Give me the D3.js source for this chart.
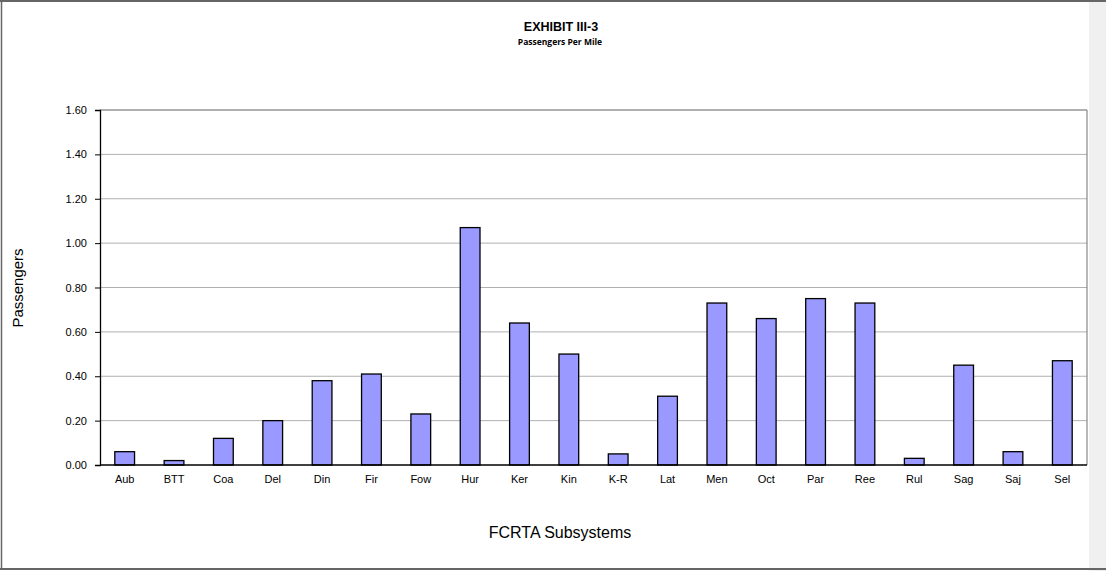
<!DOCTYPE html>
<html>
<head>
<meta charset="utf-8">
<script src="https://cdn.jsdelivr.net/npm/d3@7"></script>
<style>
  body { margin: 0; background: #fff; }
  svg text { font-family: "Liberation Sans", Arial, sans-serif; }
</style>
</head>
<body>
<div id="chart"></div>
<script>
var categories = ["Aub", "BTT", "Coa", "Del", "Din", "Fir", "Fow", "Hur", "Ker", "Kin",
                  "K-R", "Lat", "Men", "Oct", "Par", "Ree", "Rul", "Sag", "Saj", "Sel"];
var values = [0.06, 0.02, 0.12, 0.20, 0.38, 0.41, 0.23, 1.07, 0.64, 0.50,
              0.05, 0.31, 0.73, 0.66, 0.75, 0.73, 0.03, 0.45, 0.06, 0.47];
var yTicks = [0, 0.2, 0.4, 0.6, 0.8, 1.0, 1.2, 1.4, 1.6];

var W = 1106, H = 571;
var plotL = 100, plotR = 1087, plotT = 110, plotB = 465;

var svg = d3.select("#chart").append("svg")
    .attr("width", W).attr("height", H);

// right gray strip + outer frame
svg.append("rect").attr("x", 1089).attr("y", 0).attr("width", W - 1089).attr("height", H)
    .attr("fill", "#f0f0f0");
svg.append("line").attr("x1", 0).attr("x2", W).attr("y1", 1).attr("y2", 1)
    .attr("stroke", "#666").attr("stroke-width", 2);
svg.append("line").attr("x1", 0).attr("x2", W).attr("y1", H - 2).attr("y2", H - 2)
    .attr("stroke", "#666").attr("stroke-width", 2);
svg.append("line").attr("x1", 1.5).attr("x2", 1.5).attr("y1", 0).attr("y2", H - 2)
    .attr("stroke", "#666").attr("stroke-width", 1.5);

var x = d3.scaleBand().domain(categories).range([plotL, plotR]).paddingInner(0.6).paddingOuter(0.3);
var y = d3.scaleLinear().domain([0, 1.6]).range([plotB, plotT]);

// gridlines
svg.append("g").selectAll("line").data(yTicks.slice(1))
    .enter().append("line")
    .attr("x1", plotL).attr("x2", plotR)
    .attr("y1", function(d) { return y(d); })
    .attr("y2", function(d) { return y(d); })
    .attr("stroke", "#b0b0b0").attr("stroke-width", 1);

// plot border right
svg.append("line").attr("x1", plotR).attr("x2", plotR).attr("y1", plotT).attr("y2", plotB)
    .attr("stroke", "#888").attr("stroke-width", 1.2);

// bars
svg.append("g").selectAll("rect").data(values)
    .enter().append("rect")
    .attr("x", function(d, i) { return x(categories[i]); })
    .attr("width", x.bandwidth())
    .attr("y", function(d) { return y(d); })
    .attr("height", function(d) { return plotB - y(d); })
    .attr("fill", "#9999ff")
    .attr("stroke", "#000").attr("stroke-width", 1.3);

// top border of plot
svg.append("line").attr("x1", plotL).attr("x2", plotR).attr("y1", plotT).attr("y2", plotT)
    .attr("stroke", "#888").attr("stroke-width", 1.2);

// y axis
var yAxis = svg.append("g").attr("transform", "translate(" + plotL + ",0)")
    .call(d3.axisLeft(y).tickValues(yTicks).tickFormat(d3.format(".2f")).tickSize(5).tickPadding(8));
yAxis.select(".domain").attr("stroke", "#000").attr("stroke-width", 1.3);
yAxis.selectAll("text").attr("font-size", 11).attr("fill", "#000")
    .style("font-family", "Liberation Sans, Arial, sans-serif");

// x axis
var xAxis = svg.append("g").attr("transform", "translate(0," + plotB + ")")
    .call(d3.axisBottom(x).tickSize(0).tickPadding(10));
xAxis.select(".domain").attr("stroke", "#000").attr("stroke-width", 1.3)
    .attr("d", "M" + plotL + ",0H" + plotR);
xAxis.selectAll("text").attr("font-size", 11).attr("fill", "#000")
    .style("font-family", "Liberation Sans, Arial, sans-serif");

// titles
svg.append("text").attr("x", 561).attr("y", 31).attr("text-anchor", "middle")
    .attr("font-size", 12.5).attr("font-weight", "bold").text("EXHIBIT III-3");
svg.append("text").attr("x", 560).attr("y", 45).attr("text-anchor", "middle")
    .attr("font-size", 8.5).attr("font-weight", "bold")
    .style("font-family", "Open Sans, sans-serif").text("Passengers Per Mile");

svg.append("text").attr("x", 560).attr("y", 538).attr("text-anchor", "middle")
    .attr("font-size", 16).text("FCRTA Subsystems");
svg.append("text").attr("transform", "translate(23,288) rotate(-90)")
    .attr("text-anchor", "middle").attr("font-size", 15).text("Passengers");
</script>
</body>
</html>
